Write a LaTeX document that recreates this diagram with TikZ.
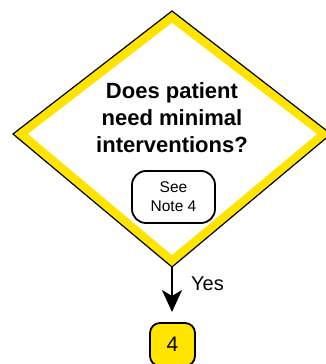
\documentclass[tikz,border=0pt]{standalone}
\usepackage{fontspec}
\setmainfont{Liberation Sans}
\usetikzlibrary{arrows.meta}
\definecolor{flowyellow}{RGB}{255,228,0}
\tikzset{
  qtext/.style={anchor=base, inner sep=0pt, font=\fontsize{22}{27}\selectfont\bfseries},
  notebox/.style={draw, line width=1.8pt, rounded corners=14pt, minimum width=83pt, minimum height=52pt, align=center, inner sep=0pt, font=\fontsize{15.5}{19}\selectfont},
  stepbox/.style={draw, fill=flowyellow, line width=1.8pt, rounded corners=10pt, minimum width=45pt, minimum height=43pt, inner sep=0pt, font=\fontsize{21}{24}\selectfont},
  flowarrow/.style={line width=1.8pt, -{Stealth[length=22pt,width=20pt,inset=6pt]}},
}
\begin{document}
\begin{tikzpicture}[x=1pt,y=-1pt]
\useasboundingbox (0,0) rectangle (325,364);
% diamond
\fill[flowyellow, draw=black, line width=1.2pt] (172,11) -- (331,134) -- (172,267) -- (13,134) -- cycle;
\fill[white] (172,23) -- (317,134) -- (172,255) -- (28,134) -- cycle;
\coordinate (dbottom) at (172,267);
\node[qtext] (q1) at (172,98) {Does patient};
\node[qtext] (q2) at (172,125) {need minimal};
\node[qtext] (q3) at (172,152) {interventions?};
\node[notebox] (note) at (173.5,197) {See\\Note 4};
\node[stepbox] (four) at (172.5,344.5) {4};
\coordinate (tip) at (172,312);
\draw[flowarrow] (dbottom) -- (tip);
\node[anchor=base west, inner sep=0pt, font=\fontsize{20}{24}\selectfont] (yes) at (191,290) {Yes};
\end{tikzpicture}
\end{document}
